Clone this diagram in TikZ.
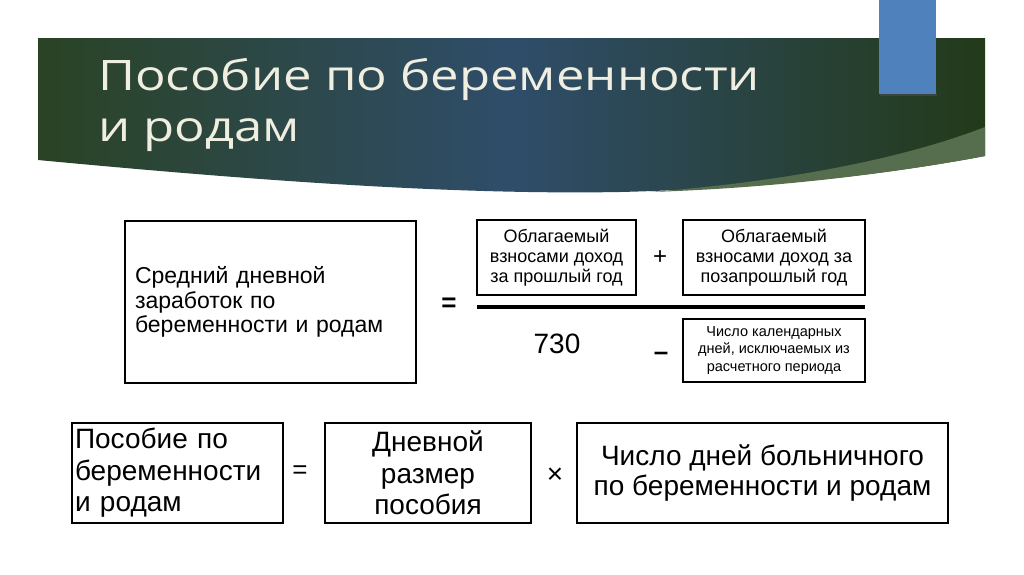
\documentclass[tikz,border=0pt]{standalone}
\usepackage{fontspec}
\setmainfont{Liberation Sans}
\newfontfamily\titlefont[FakeStretch=1.21]{Open Sans}
\definecolor{bgreenL}{HTML}{2A4325}
\definecolor{bblue}{HTML}{2F4D6A}
\definecolor{bgreenR}{HTML}{233A19}
\definecolor{wedge}{HTML}{566E4E}
\definecolor{rectblue}{HTML}{4F81BD}
\definecolor{titlecol}{HTML}{EFEEE0}
\begin{document}
\begin{tikzpicture}[x=1pt,y=-1pt,
  box/.style={draw=black, line width=2pt, inner sep=0pt, align=center},
  sym/.style={inner sep=0pt, font=\fontsize{24}{24}\selectfont},
  ttl/.style={anchor=base west, inner sep=0pt, text=titlecol, font=\titlefont\fontsize{42}{52}\selectfont}]
\useasboundingbox (0,0) rectangle (1024,574);
\fill[white] (0,0) rectangle (1024,574);
% banner
\shade[left color=bgreenL, right color=bgreenR, middle color=bblue]
  (38,38) -- (985,38) -- (985,156) .. controls (900,172) and (780,188) .. (620,192)
  .. controls (450,195) and (250,180) .. (38,160) -- cycle;
\fill[wedge] (985,127) -- (985,156) .. controls (900,172) and (780,188) .. (650,192)
  .. controls (780,182) and (900,160) .. (985,127) -- cycle;
% blue rectangle
\fill[black!70, opacity=0.6] (880,93) rectangle (937,96);
\fill[rectblue] (879,0) rectangle (936,94);
% title
\node[ttl] (title1) at (98,90) {Пособие по беременности};
\node[ttl] (title2) at (98,141) {и родам};
% formula top
\node[box, minimum width=291, minimum height=162, text width=271, align=left, font=\fontsize{23}{24.5}\selectfont] (avg) at (270.5,302)
  {Средний дневной\\заработок по\\беременности и родам};
\node[sym, font=\bfseries\fontsize{26}{26}\selectfont] (eq1) at (449,305) {=};
\node[box, minimum width=159, minimum height=75, font=\fontsize{18}{20}\selectfont] (inc1) at (556.5,257.5)
  {Облагаемый\\взносами доход\\за прошлый год};
\node[sym] (plus) at (660,258) {+};
\node[box, minimum width=182, minimum height=75, font=\fontsize{18}{20}\selectfont] (inc2) at (774,257.5)
  {Облагаемый\\взносами доход за\\позапрошлый год};
\coordinate (fl) at (477,307);
\coordinate (fr) at (865,307);
\draw[line width=4pt] (fl) -- (fr);
\node[inner sep=0pt, font=\fontsize{28}{28}\selectfont] (n730) at (557,344) {730};
\node[sym, font=\bfseries\fontsize{26}{26}\selectfont] (minus) at (661,356) {–};
\node[box, minimum width=182, minimum height=63, font=\fontsize{14.5}{17.5}\selectfont] (excl) at (774,350.5)
  {Число календарных\\дней, исключаемых из\\расчетного периода};
% formula bottom
\node[box, minimum width=211, minimum height=100, text width=205, align=left, inner xsep=3, font=\fontsize{28}{31.5}\selectfont] (ben) at (177.5,473)
  {Пособие по\\беременности\\и родам};
\node[sym, font=\fontsize{26}{26}\selectfont] (eq2) at (300,472) {=};
\node[box, minimum width=206, minimum height=100, font=\fontsize{28}{31.5}\selectfont] (daily) at (428,473)
  {Дневной\\размер\\пособия};
\node[sym, font=\fontsize{28}{28}\selectfont] (times) at (555,476) {×};
\node[box, minimum width=371, minimum height=100, font=\fontsize{28}{30}\selectfont] (days) at (762.5,473)
  {Число дней больничного\\по беременности и родам};
\end{tikzpicture}
\end{document}
